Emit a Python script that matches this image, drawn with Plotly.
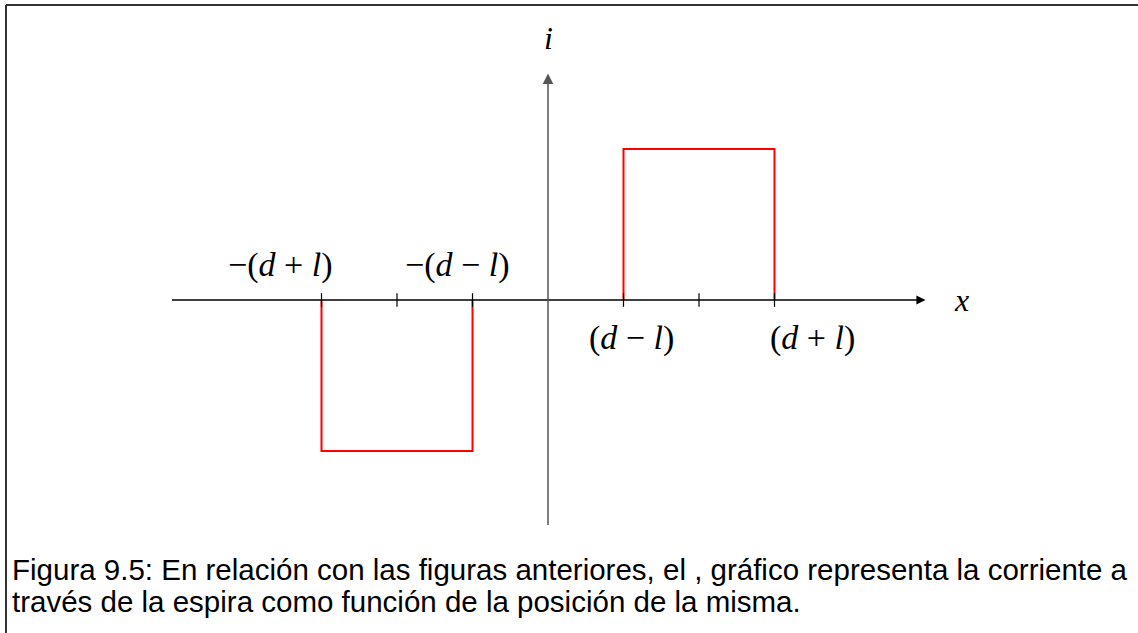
import plotly.graph_objects as go

# current through the loop vs position (units: d=2, l=1)
neg_x = [-3, -3, -1, -1]
neg_i = [0, -2, -2, 0]
pos_x = [1, 1, 3, 3]
pos_i = [0, 2, 2, 0]

tick_x = [-3, -2, -1, 1, 2, 3]
above_labels = ["\u2212(<i>d</i> + <i>l</i>)", "\u2212(<i>d</i> \u2212 <i>l</i>)"]
above_x = [-3.55, -1.2]
below_labels = ["(<i>d</i> \u2212 <i>l</i>)", "(<i>d</i> + <i>l</i>)"]
below_x = [1.1, 3.5]

caption = [
    "Figura 9.5: En relación con las figuras anteriores, el , gráfico representa la corriente a",
    "través de la espira como función de la posición de la misma.",
]

W, H = 1138, 633
scale = 75.5  # px per unit
ox, oy = 548, 300

serif = "Liberation Serif"

fig = go.Figure()

for xs, ys in [(neg_x, neg_i), (pos_x, pos_i)]:
    fig.add_trace(
        go.Scatter(x=xs, y=ys, mode="lines", line=dict(color="#ff0000", width=2), hoverinfo="skip")
    )

# ticks on the x axis
for t in tick_x:
    fig.add_shape(type="line", x0=t, x1=t, y0=-0.09, y1=0.09, line=dict(color="black", width=1.2))

annotations = []
# x axis with arrow
annotations.append(dict(x=5, y=0, ax=-5, ay=0, axref="x", ayref="y", xref="x", yref="y",
                        text="", showarrow=True, arrowhead=2, arrowsize=1.4, arrowwidth=1.3,
                        arrowcolor="black"))
# y axis with arrow
annotations.append(dict(x=0, y=3, ax=0, ay=-3, axref="x", ayref="y", xref="x", yref="y",
                        text="", showarrow=True, arrowhead=2, arrowsize=1.4, arrowwidth=1.5,
                        arrowcolor="#555555"))
annotations.append(dict(x=5.48, y=0, text="<i>x</i>", showarrow=False, xref="x", yref="y",
                        font=dict(family=serif, size=32, color="black")))
annotations.append(dict(x=0, y=3.47, text="<i>i</i>", showarrow=False, xref="x", yref="y",
                        font=dict(family=serif, size=32, color="black")))
for lbl, xx in zip(above_labels, above_x):
    annotations.append(dict(x=xx, y=0.47, text=lbl, showarrow=False, xref="x", yref="y",
                            font=dict(family=serif, size=34, color="black")))
for lbl, xx in zip(below_labels, below_x):
    annotations.append(dict(x=xx, y=-0.5, text=lbl, showarrow=False, xref="x", yref="y",
                            font=dict(family=serif, size=34, color="black")))
for k, line in enumerate(caption):
    annotations.append(dict(x=10 / W, y=1 - (569 + 32 * k) / H, xref="paper", yref="paper",
                            xanchor="left", yanchor="middle", text=line, showarrow=False,
                            font=dict(family="Liberation Sans", size=29.5, color="black")))

# frame
fig.add_shape(type="line", xref="paper", yref="paper", x0=6 / W, x1=1, y0=1 - 5 / H, y1=1 - 5 / H,
              line=dict(color="#333333", width=2))
fig.add_shape(type="line", xref="paper", yref="paper", x0=6 / W, x1=6 / W, y0=0, y1=1 - 5 / H,
              line=dict(color="#333333", width=2))

fig.update_layout(
    width=W,
    height=H,
    autosize=False,
    margin=dict(l=0, r=0, t=0, b=0),
    showlegend=False,
    plot_bgcolor="white",
    paper_bgcolor="white",
    annotations=annotations,
    xaxis=dict(range=[-ox / scale, (W - ox) / scale], visible=False, fixedrange=True),
    yaxis=dict(range=[-(H - oy) / scale, oy / scale], visible=False, fixedrange=True),
)

fig.write_html("out.html", config=dict(displayModeBar=False),
               post_script="document.body.style.margin='0';")
